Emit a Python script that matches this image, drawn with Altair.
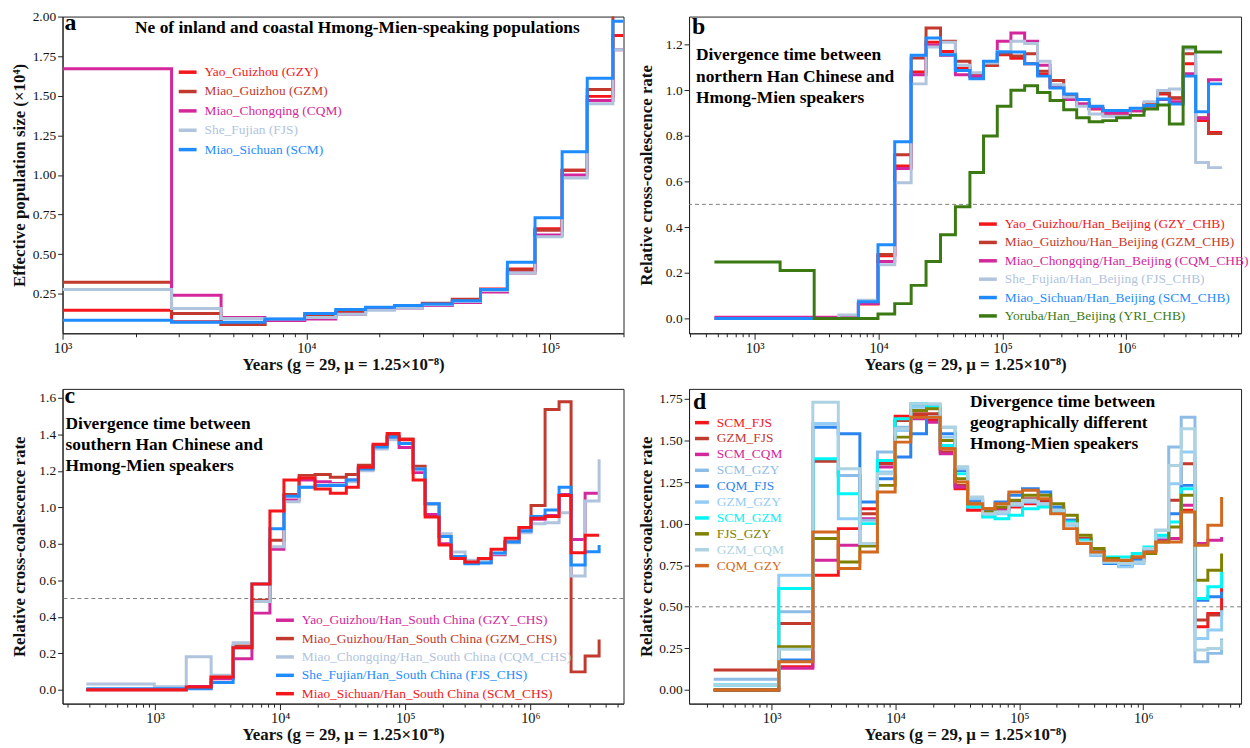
import altair as alt
import pandas as pd

FONT = "Liberation Serif"
XTITLE = "Years (g = 29, μ = 1.25×10⁻⁸)"
RCCR = "Relative cross-coalescence rate"

# ---------------- panel a : Ne ----------------
A_EDGES = [1000, 2800, 4470, 6760, 9840, 13200, 17500, 23000, 29900, 39700,
           51800, 66800, 86700, 112000, 142000, 181000, 200000]
A_NAMES = ["Yao_Guizhou (GZY)", "Miao_Guizhou (GZM)", "Miao_Chongqing (CQM)",
           "She_Fujian (FJS)", "Miao_Sichuan (SCM)"]
A_COLORS = ["#F5161B", "#C2392D", "#D3279B", "#B0C4DE", "#1E8CFF"]
A_GZY = [0.146, 0.073, 0.056, 0.08, 0.105, 0.13, 0.155, 0.17, 0.18, 0.21, 0.28, 0.406, 0.66, 1.03, 1.496, 1.88, 1.88]
A_GZM = [0.323, 0.125, 0.056, 0.08, 0.11, 0.135, 0.155, 0.17, 0.19, 0.215, 0.275, 0.40, 0.65, 1.03, 1.54, 2.05, 2.05]
A_CQM = [1.67, 0.24, 0.10, 0.08, 0.09, 0.12, 0.15, 0.16, 0.175, 0.195, 0.26, 0.38, 0.62, 1.0, 1.47, 1.79, 1.79]
A_FJS = [0.277, 0.156, 0.094, 0.09, 0.10, 0.12, 0.145, 0.16, 0.18, 0.20, 0.27, 0.38, 0.61, 0.98, 1.45, 1.79, 1.79]
A_SCM = [0.083, 0.069, 0.069, 0.09, 0.125, 0.15, 0.165, 0.175, 0.185, 0.205, 0.277, 0.448, 0.729, 1.146, 1.61, 1.97, 1.97]

# ---------------- panel b : northern Han ----------------
B_EDGES = [473, 1603, 3020, 4775, 6871, 9886, 13490, 18323, 24155, 31623, 41687,
           54576, 70307, 90782, 116950, 151008, 191867, 242103, 311889, 397192,
           501187, 645654, 833681, 1074000, 1386800, 1786500, 2223000, 2870800,
           3622400, 4603000, 5929000]
B_NAMES = ["Yao_Guizhou/Han_Beijing (GZY_CHB)", "Miao_Guizhou/Han_Beijing (GZM_CHB)",
           "Miao_Chongqing/Han_Beijing (CQM_CHB)", "She_Fujian/Han_Beijing (FJS_CHB)",
           "Miao_Sichuan/Han_Beijing (SCM_CHB)", "Yoruba/Han_Beijing (YRI_CHB)"]
B_COLORS = ["#F5161B", "#C2392D", "#D3279B", "#B0C4DE", "#1E8CFF", "#3B7A12"]
B_GZY = [0, 0, 0, 0, 0.063, 0.275, 0.668, 1.08, 1.21, 1.17, 1.097, 1.06, 1.11, 1.156, 1.14, 1.116,
         1.07, 1.013, 0.97, 0.936, 0.918, 0.896, 0.896, 0.911, 0.94, 0.984, 0.965, 1.116, 0.867, 0.815, 0.815]
B_GZM = [0, 0, 0, 0, 0.065, 0.28, 0.717, 1.141, 1.273, 1.215, 1.127, 1.072, 1.11, 1.16, 1.15, 1.16,
         1.083, 1.043, 0.98, 0.94, 0.92, 0.90, 0.90, 0.91, 0.94, 0.989, 0.967, 1.16, 0.88, 0.81, 0.81]
B_CQM = [0.005, 0.005, 0.005, 0.005, 0.065, 0.25, 0.657, 1.068, 1.197, 1.153, 1.068, 1.062, 1.124, 1.215,
         1.251, 1.215, 1.11, 1.018, 0.96, 0.94, 0.92, 0.90, 0.90, 0.91, 0.93, 0.96, 0.95, 1.072, 0.877, 1.046, 1.046]
B_FJS = [0, 0, 0, 0.015, 0.08, 0.235, 0.595, 1.028, 1.19, 1.21, 1.11, 1.077, 1.12, 1.17, 1.215, 1.205,
         1.127, 1.024, 0.97, 0.93, 0.896, 0.886, 0.886, 0.92, 0.95, 0.999, 1.006, 1.182, 0.683, 0.661, 0.661]
B_SCM = [0, 0, 0, 0, 0.073, 0.323, 0.774, 1.153, 1.229, 1.156, 1.087, 1.05, 1.127, 1.168, 1.168, 1.116,
         1.062, 1.01, 0.984, 0.96, 0.93, 0.911, 0.911, 0.921, 0.933, 0.962, 0.94, 1.062, 0.906, 1.028, 1.028]
B_YRI = [0.247, 0.21, 0, 0, 0, 0.02, 0.065, 0.145, 0.25, 0.367, 0.49, 0.64, 0.80, 0.93, 1.00, 1.02,
         0.99, 0.955, 0.915, 0.88, 0.862, 0.867, 0.88, 0.89, 0.918, 0.935, 0.852, 1.19, 1.168, 1.168, 1.168]

# ---------------- panel c : southern Han ----------------
C_EDGES = [282, 986, 1774, 2806, 4204, 5945, 8279, 10715, 14171, 19012, 25162, 33786,
           42170, 55363, 71654, 89330, 115600, 144200, 186600, 232800, 300900, 383700,
           485600, 628200, 812900, 1014000, 1312000, 1698000, 2118000, 2742000, 3548000]
C_NAMES = ["Yao_Guizhou/Han_South China (GZY_CHS)", "Miao_Guizhou/Han_South China (GZM_CHS)",
           "Miao_Chongqing/Han_South China (CQM_CHS)", "She_Fujian/Han_South China (FJS_CHS)",
           "Miao_Sichuan/Han_South China (SCM_CHS)"]
C_COLORS = ["#D3279B", "#C2392D", "#B0C4DE", "#1E8CFF", "#F5161B"]
C_GZY = [0.0, 0.0, 0.018, 0.06, 0.17, 0.42, 0.77, 1.04, 1.15, 1.14, 1.13, 1.15, 1.21, 1.33, 1.38, 1.328,
         1.19, 0.96, 0.80, 0.72, 0.695, 0.70, 0.74, 0.81, 0.87, 0.935, 0.955, 1.07, 0.824, 1.077, 1.077]
C_GZM = [0.0, 0.0, 0.01, 0.07, 0.24, 0.49, 0.82, 1.07, 1.175, 1.18, 1.165, 1.18, 1.23, 1.34, 1.39, 1.375,
         1.225, 1.02, 0.84, 0.73, 0.695, 0.70, 0.745, 0.81, 0.89, 1.01, 1.536, 1.578, 0.098, 0.185, 0.276]
C_CQM = [0.031, 0.016, 0.181, 0.08, 0.258, 0.484, 0.784, 1.03, 1.11, 1.12, 1.125, 1.14, 1.20, 1.32, 1.37, 1.35,
         1.21, 1.02, 0.855, 0.755, 0.71, 0.705, 0.745, 0.805, 0.86, 0.91, 0.915, 0.97, 0.624, 1.034, 1.264]
C_FJS = [0.005, 0.005, 0.005, 0.04, 0.23, 0.58, 0.883, 1.06, 1.11, 1.12, 1.12, 1.15, 1.21, 1.33, 1.385, 1.35,
         1.21, 1.02, 0.84, 0.73, 0.69, 0.695, 0.75, 0.81, 0.87, 0.95, 0.985, 1.11, 0.684, 0.756, 0.793]
C_SCM = [0.0, 0.0, 0.015, 0.07, 0.23, 0.58, 0.98, 1.15, 1.16, 1.10, 1.077, 1.11, 1.22, 1.346, 1.404, 1.37,
         1.15, 0.947, 0.793, 0.72, 0.70, 0.72, 0.77, 0.83, 0.89, 0.94, 0.95, 1.065, 0.751, 0.847, 0.847]

# ---------------- panel d : between Hmong-Mien groups ----------------
D_EDGES = [340, 1140, 2148, 3451, 5152, 7145, 9931, 13275, 17783, 22961, 30269, 38194,
           50466, 63680, 82224, 105925, 141906, 179061, 228034, 293765, 379315, 483059,
           632412, 814704, 1013911, 1261828, 1606941, 2027683, 2618183, 3326595, 4295364]
D_NAMES = ["SCM_FJS", "GZM_FJS", "SCM_CQM", "SCM_GZY", "CQM_FJS",
           "GZM_GZY", "SCM_GZM", "FJS_GZY", "GZM_CQM", "CQM_GZY"]
D_COLORS = ["#F5161B", "#C2392D", "#D3279B", "#8DBDE6", "#2A84F0",
            "#93CCF5", "#00F5F5", "#808000", "#ADD3E3", "#D2691E"]
D_SCM_FJS = [0.0, 0.14, 0.69, 0.97, 1.09, 1.37, 1.645, 1.65, 1.62, 1.45, 1.21, 1.08, 1.07, 1.09, 1.10, 1.12,
             1.13, 1.08, 1.01, 0.90, 0.83, 0.79, 0.77, 0.79, 0.84, 0.90, 0.91, 1.08, 0.38, 0.46, 0.62]
D_GZM_FJS = [0.12, 0.40, 1.375, 1.29, 1.06, 1.36, 1.62, 1.66, 1.66, 1.43, 1.23, 1.14, 1.09, 1.09, 1.12, 1.15,
             1.14, 1.08, 1.02, 0.91, 0.83, 0.78, 0.77, 0.79, 0.84, 0.90, 1.14, 1.36, 0.42, 0.45, 0.50]
D_SCM_CQM = [0.0, 0.13, 0.78, 0.87, 1.03, 1.34, 1.57, 1.63, 1.61, 1.42, 1.22, 1.10, 1.06, 1.08, 1.13, 1.13,
             1.12, 1.07, 1.00, 0.90, 0.83, 0.79, 0.77, 0.79, 0.84, 0.90, 0.91, 1.11, 0.88, 0.90, 0.92]
D_SCM_GZY = [0.065, 0.47, 1.60, 1.29, 1.02, 1.43, 1.58, 1.71, 1.71, 1.58, 1.34, 1.15, 1.06, 1.07, 1.12, 1.14,
             1.12, 1.08, 1.00, 0.90, 0.82, 0.77, 0.75, 0.77, 0.83, 0.96, 1.46, 1.64, 0.17, 0.22, 0.31]
D_CQM_FJS = [0.0, 0.18, 1.58, 1.54, 1.13, 1.27, 1.40, 1.54, 1.64, 1.54, 1.32, 1.14, 1.08, 1.13, 1.17, 1.21,
             1.19, 1.10, 1.02, 0.90, 0.81, 0.76, 0.75, 0.78, 0.84, 0.92, 1.06, 1.23, 0.54, 0.56, 0.59]
D_GZM_GZY = [0.03, 0.69, 1.60, 1.03, 0.88, 1.31, 1.56, 1.70, 1.70, 1.52, 1.33, 1.15, 1.06, 1.06, 1.11, 1.13,
             1.11, 1.07, 0.99, 0.89, 0.81, 0.77, 0.74, 0.76, 0.83, 0.92, 1.24, 1.43, 0.31, 0.36, 0.48]
D_SCM_GZM = [0.03, 0.61, 1.39, 1.18, 1.00, 1.38, 1.63, 1.72, 1.70, 1.47, 1.30, 1.10, 1.04, 1.03, 1.05, 1.09,
             1.10, 1.08, 1.01, 0.90, 0.83, 0.80, 0.80, 0.82, 0.86, 0.93, 1.01, 1.21, 0.55, 0.62, 0.72]
D_FJS_GZY = [0.0, 0.26, 0.91, 0.77, 0.865, 1.23, 1.52, 1.68, 1.69, 1.50, 1.27, 1.12, 1.07, 1.10, 1.14, 1.17,
             1.17, 1.12, 1.05, 0.93, 0.85, 0.79, 0.77, 0.80, 0.82, 0.89, 0.98, 1.17, 0.66, 0.72, 0.82]
D_GZM_CQM = [0.03, 0.245, 1.73, 1.33, 0.88, 1.30, 1.57, 1.72, 1.72, 1.58, 1.34, 1.16, 1.06, 1.07, 1.12, 1.14,
             1.12, 1.08, 1.00, 0.89, 0.82, 0.77, 0.76, 0.77, 0.85, 0.96, 1.35, 1.57, 0.24, 0.25, 0.30]
D_CQM_GZY = [0.0, 0.17, 0.95, 0.73, 0.83, 1.19, 1.49, 1.64, 1.64, 1.45, 1.25, 1.12, 1.09, 1.12, 1.19, 1.20,
             1.15, 1.06, 0.97, 0.88, 0.83, 0.78, 0.78, 0.80, 0.83, 0.89, 0.89, 1.07, 0.87, 0.99, 1.16]

A_TITLE = "Ne of inland and coastal Hmong-Mien-speaking populations"
B_TEXT = ["Divergence time between", "northern Han Chinese and", "Hmong-Mien speakers"]
C_TEXT = ["Divergence time between", "southern Han Chinese and", "Hmong-Mien speakers"]
D_TEXT = ["Divergence time between", "geographically different", "Hmong-Mien speakers"]


def long_df(edges, names, series):
    rows = []
    for name, vals in zip(names, series):
        assert len(vals) == len(edges), name
        for e, v in zip(edges, vals):
            rows.append({"year": e, "value": v, "series": name})
    return pd.DataFrame(rows)


def label_color_expr(names, colors):
    expr = "'#000000'"
    for n, c in reversed(list(zip(names, colors))):
        expr = f"datum.value === '{n}' ? '{c}' : ({expr})"
    return expr


MAJOR_TEST = "abs(log(datum.value) / LN10 - round(log(datum.value) / LN10)) < 0.000001"
LABEL_EXPR = ("datum.value == 1000 ? '10³' : datum.value == 10000 ? '10⁴' : "
              "datum.value == 100000 ? '10⁵' : datum.value == 1000000 ? '10⁶' : ''")


def x_axis(lo, hi):
    vals = [m * 10 ** k for k in range(2, 8) for m in range(1, 10) if lo <= m * 10 ** k <= hi]
    return alt.Axis(values=vals, tickCount=200, title=XTITLE, labelExpr=LABEL_EXPR,
                    tickSize={"condition": {"test": MAJOR_TEST, "value": 6}, "value": 3.5},
                    labelFlush=False, labelOverlap=False, labelPadding=2, titlePadding=2,
                    labelFontSize=14.5)


def one(text, x, y, size, align="left"):
    return alt.Chart(pd.DataFrame({"k": [0]})).mark_text(
        font=FONT, fontSize=size, fontWeight="bold", align=align, baseline="alphabetic",
        lineHeight=21.5, color="black"
    ).encode(x=alt.value(x), y=alt.value(y), text=alt.value(text))


def panel(df, names, colors, xdom, ydom, yvals, yfmt, ytitle, w, h, leg, letter, texts, dashed):
    legend = alt.Legend(orient="none", legendX=leg[0], legendY=leg[1], title=None,
                        symbolType="stroke", symbolStrokeWidth=3.5, symbolSize=leg[2],
                        rowPadding=leg[3], labelFont=FONT, labelFontSize=13.5, labelOffset=6,
                        labelColor=alt.ExprRef(expr=label_color_expr(names, colors)),
                        padding=0, labelLimit=400)
    x = alt.X("year:Q", scale=alt.Scale(type="log", domain=list(xdom), nice=False), axis=x_axis(*xdom))
    y = alt.Y("value:Q", scale=alt.Scale(domain=list(ydom), nice=False, zero=False),
              axis=alt.Axis(title=ytitle, values=yvals, tickCount=50, format=yfmt, tickSize=5,
                            labelPadding=2, labelOverlap=False, labelFontSize=13.5,
                            titleX=-38, titleBaseline="alphabetic"))
    layers = []
    if dashed:
        layers.append(alt.Chart(pd.DataFrame({"k": [0]})).mark_rule(
            color="#808080", strokeDash=[4, 3], strokeWidth=1).encode(y=alt.datum(0.5)))
    layers.append(alt.Chart(df).mark_line(interpolate="step-after", strokeWidth=3, clip=True).encode(
        x=x, y=y, color=alt.Color("series:N", scale=alt.Scale(domain=names, range=colors), legend=legend)))
    layers.append(one(letter[0], letter[1], letter[2], 24))
    for t in texts:
        layers.append(one(*t))
    return alt.layer(*layers).properties(width=w, height=h)


pa = panel(long_df(A_EDGES, A_NAMES, [A_GZY, A_GZM, A_CQM, A_FJS, A_SCM]), A_NAMES, A_COLORS,
           (1000, 200000), (0, 2.0), [0.25, 0.5, 0.75, 1.0, 1.25, 1.5, 1.75, 2.0], ".2f",
           "Effective population size (×10⁴)", 565, 319, (115, 45, 324, 1.5), ("a", 2, 14),
           [(A_TITLE, 297, 17, 17.5, "center")], False)
pb = panel(long_df(B_EDGES, B_NAMES, [B_GZY, B_GZM, B_CQM, B_FJS, B_SCM, B_YRI]), B_NAMES, B_COLORS,
           (295, 8430000), (-0.065, 1.323), [0, 0.2, 0.4, 0.6, 0.8, 1.0, 1.2], ".1f",
           RCCR, 556, 319, (290, 198, 324, 0.5), ("b", 3, 18),
           [(B_TEXT, 7, 44, 17.5)], True)
pc = panel(long_df(C_EDGES, C_NAMES, [C_GZY, C_GZM, C_CQM, C_FJS, C_SCM]), C_NAMES, C_COLORS,
           (182, 5560000), (-0.076, 1.649), [0, 0.2, 0.4, 0.6, 0.8, 1.0, 1.2, 1.4, 1.6], ".1f",
           RCCR, 565, 317, (213, 222, 324, 0.5), ("c", 2, 14),
           [(C_TEXT, 3, 40, 17.5)], True)
pd_ = panel(long_df(D_EDGES, D_NAMES, [D_SCM_FJS, D_GZM_FJS, D_SCM_CQM, D_SCM_GZY, D_CQM_FJS,
                                       D_GZM_GZY, D_SCM_GZM, D_FJS_GZY, D_GZM_CQM, D_CQM_GZY]),
            D_NAMES, D_COLORS,
            (215, 6170000), (-0.082, 1.81), [0, 0.25, 0.5, 0.75, 1.0, 1.25, 1.5, 1.75], ".2f",
            RCCR, 556, 317, (4, 25, 196, 0), ("d", 4, 20),
            [(D_TEXT, 283, 18, 17.5)], True)

chart = alt.concat(pa, pb, pc, pd_, columns=2, spacing=alt.RowColnumber(row=56, column=66),
                   bounds="flush").resolve_scale(
    x="independent", y="independent", color="independent"
).properties(
    padding={"left": 10, "top": 6, "right": 0, "bottom": 0}, background="white"
).configure_view(
    stroke="#222222", strokeWidth=1
).configure_axis(
    labelFont=FONT, titleFont=FONT, labelFontSize=13.5, titleFontSize=17, titleFontWeight="bold",
    labelColor="#111111", titleColor="#111111", tickColor="#222222", domainColor="#222222", grid=False
)

chart.save("out.html", embed_options={"renderer": "svg", "actions": False})
